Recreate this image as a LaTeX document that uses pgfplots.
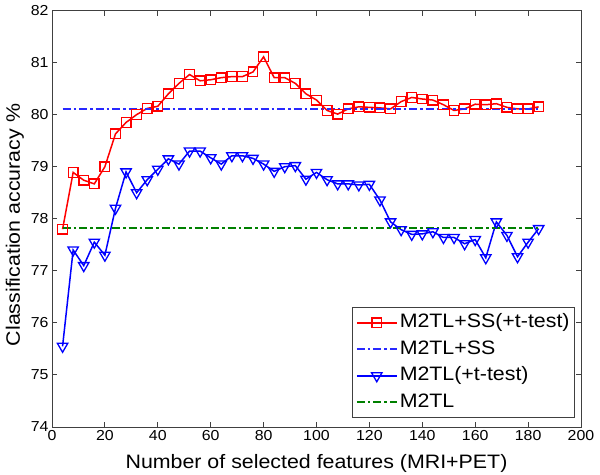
\documentclass[border=0pt]{standalone}
\usepackage{fontspec}
\setmainfont{Liberation Sans}[FakeStretch=1.1]
\usepackage{pgfplots}
\usepackage{pgfplotstable}
\pgfplotsset{compat=1.18}
\pgfplotstableread{
x y
4 77.8
8 78.89
12 78.74
16 78.67
20 79.0
24 79.63
28 79.85
32 80.0
36 80.12
40 80.16
44 80.4
48 80.6
52 80.77
56 80.65
60 80.67
64 80.71
68 80.73
72 80.73
76 80.82
80 81.11
84 80.71
88 80.71
92 80.6
96 80.4
100 80.28
104 80.08
108 80.01
112 80.11
116 80.15
120 80.14
124 80.13
128 80.11
132 80.25
136 80.33
140 80.3
144 80.28
148 80.19
152 80.08
156 80.11
160 80.2
164 80.19
168 80.21
172 80.14
176 80.11
180 80.11
184 80.15
}\ssttest
\pgfplotstableread{
x y
4 75.55
8 77.4
12 77.1
16 77.55
20 77.3
24 78.2
28 78.9
32 78.5
36 78.75
40 78.95
44 79.15
48 79.05
52 79.3
56 79.3
60 79.17
64 79.05
68 79.21
72 79.21
76 79.16
80 79.05
84 78.91
88 79.0
92 79.02
96 78.76
100 78.89
104 78.75
108 78.67
112 78.67
116 78.65
120 78.66
124 78.36
128 77.94
132 77.79
136 77.7
140 77.71
144 77.75
148 77.64
152 77.64
156 77.52
160 77.6
164 77.25
168 77.94
172 77.68
176 77.27
180 77.55
184 77.81
}\ttest
\definecolor{mgreen}{RGB}{0,128,0}
\definecolor{mblue}{RGB}{0,0,255}
\definecolor{lblue}{RGB}{40,40,255}
\begin{document}
\begin{tikzpicture}
\begin{axis}[
  at={(0,0)}, anchor=south west,
  scale only axis, width=529bp, height=416.5bp,
  xmin=0, xmax=200, ymin=74, ymax=82,
  xtick={0,20,...,200}, ytick={74,75,...,82},
  tick align=inside, major tick length=5bp,
  axis line style={line width=0.9bp, draw=black!75},
  every tick/.style={line width=0.9bp, black!75},
  tick label style={font=\fontsize{14.5}{16}\selectfont},
  /pgf/number format/assume math mode=true,
  xlabel={Number of selected features (MRI+PET)},
  ylabel={Classification accuracy \%},
  label style={font=\fontsize{19.5}{22}\selectfont},
  xlabel style={at={(axis description cs:0.5,-0.0864)}, anchor=center},
  ylabel style={at={(axis description cs:-0.07,0.485)}, anchor=center},
  legend cell align=left,
  legend image code/.code={\draw[mark repeat=2, mark phase=2] plot coordinates {(0bp,0bp) (20bp,0bp) (40bp,0bp)};},
  legend style={at={(0.9887,0.0216)}, anchor=south east,
    font=\fontsize{19.5}{20}\selectfont, draw=black!75, line width=0.9bp,
    inner xsep=3bp, inner ysep=2bp, row sep=0pt,
    nodes={inner ysep=4bp, text height=14bp, text depth=4.5bp}},
]
\addplot[red, line width=1.5bp, mark=square, mark size=4.8bp, mark options={solid, red, line width=1.3bp}] table {\ssttest};
\addlegendentry{M2TL+SS(+t-test)}
\addplot[draw=lblue, line width=2bp, dash pattern=on 8bp off 3bp on 2.5bp off 3bp] coordinates {(4,80.1) (184,80.1)};
\addlegendentry{M2TL+SS}
\addplot[mblue, line width=1.5bp, mark=triangle, mark size=6bp, mark options={solid, mblue, rotate=180, line width=1.3bp}] table {\ttest};
\addlegendentry{M2TL(+t-test)}
\addplot[draw=mgreen, line width=2bp, dash pattern=on 8bp off 3bp on 2.5bp off 3bp] coordinates {(4,77.82) (184,77.82)};
\addlegendentry{M2TL}
\end{axis}
\pgfresetboundingbox
\path (-52bp,-48bp) rectangle (548bp,427bp);
\end{tikzpicture}
\end{document}
